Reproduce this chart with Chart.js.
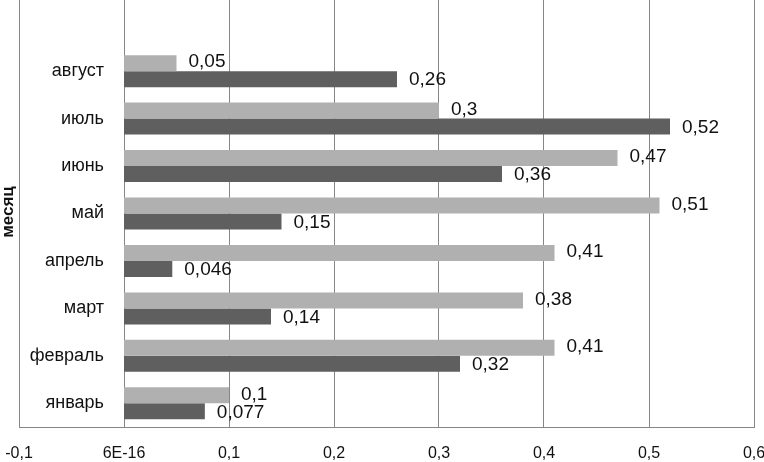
<!DOCTYPE html>
<html>
<head>
<meta charset="utf-8">
<script src="https://cdn.jsdelivr.net/npm/chart.js@4"></script>
<style>
html,body{margin:0;padding:0;background:#fff;}
#wrap{width:764px;height:462px;position:relative;}
</style>
</head>
<body>
<div id="wrap"><canvas id="c" width="764" height="462"></canvas></div>
<script>
const categories = ['январь','февраль','март','апрель','май','июнь','июль','август'];
const seriesLight = [0.1, 0.41, 0.38, 0.41, 0.51, 0.47, 0.3, 0.05];
const seriesDark  = [0.077, 0.32, 0.14, 0.046, 0.15, 0.36, 0.52, 0.26];
const xTickLabels = ['-0,1','6E-16','0,1','0,2','0,3','0,4','0,5','0,6'];
const yTitle = 'месяц';

const FONT = '"Liberation Sans", Arial, sans-serif';

const labelsPlugin = {
  id: 'customLabels',
  afterDatasetsDraw(chart) {
    const ctx = chart.ctx;
    const xs = chart.scales.x, ys = chart.scales.y;
    ctx.save();
    // category labels
    ctx.font = '18px ' + FONT;
    ctx.fillStyle = '#111111';
    ctx.textAlign = 'right';
    ctx.textBaseline = 'middle';
    const x0 = xs.getPixelForValue(0);
    categories.forEach((c, i) => {
      ctx.fillText(c, x0 - 20, ys.getPixelForValue(i));
    });
    // data labels
    ctx.font = '19px ' + FONT;
    ctx.textAlign = 'left';
    chart.data.datasets.forEach((ds, di) => {
      const meta = chart.getDatasetMeta(di);
      meta.data.forEach((bar, i) => {
        const v = ds.data[i];
        if (v == null) return;
        const txt = String(v).replace('.', ',');
        ctx.fillText(txt, bar.x + 12, bar.y + (di === 0 ? -1 : 1));
      });
    });
    // y title
    ctx.font = 'bold 17px ' + FONT;
    ctx.textAlign = 'center';
    ctx.translate(8, 212);
    ctx.rotate(-Math.PI / 2);
    ctx.fillText(yTitle, 0, 0);
    ctx.restore();
  }
};

new Chart(document.getElementById('c'), {
  type: 'bar',
  data: {
    // one empty slot above the last month, as in the original plot area
    labels: [...categories, ''],
    datasets: [
      { data: seriesLight, backgroundColor: '#b0b0b0', borderWidth: 0 },
      { data: seriesDark, backgroundColor: '#5f5f5f', borderWidth: 0 }
    ]
  },
  options: {
    indexAxis: 'y',
    responsive: false,
    animation: false,
    devicePixelRatio: 1,
    categoryPercentage: 0.675,
    barPercentage: 1,
    layout: { padding: { top: 0, right: 10, left: 0, bottom: 0 } },
    plugins: { legend: { display: false }, tooltip: { enabled: false } },
    scales: {
      x: {
        type: 'linear',
        min: -0.1,
        max: 0.6,
        ticks: {
          stepSize: 0.1,
          padding: 17,
          color: '#111111',
          font: { family: FONT, size: 16 },
          callback: (v, i) => xTickLabels[i]
        },
        grid: { color: '#868686', lineWidth: 1, drawTicks: false },
        border: { display: true, color: '#868686' },
        afterFit: s => { s.paddingLeft = 0; s.paddingRight = 0; s.height = 35; }
      },
      y: {
        type: 'category',
        reverse: true,
        offset: true,
        ticks: { display: false },
        grid: { display: false },
        border: { display: false },
        afterFit: s => { s.width = 19; }
      }
    }
  },
  plugins: [labelsPlugin]
});
</script>
</body>
</html>
